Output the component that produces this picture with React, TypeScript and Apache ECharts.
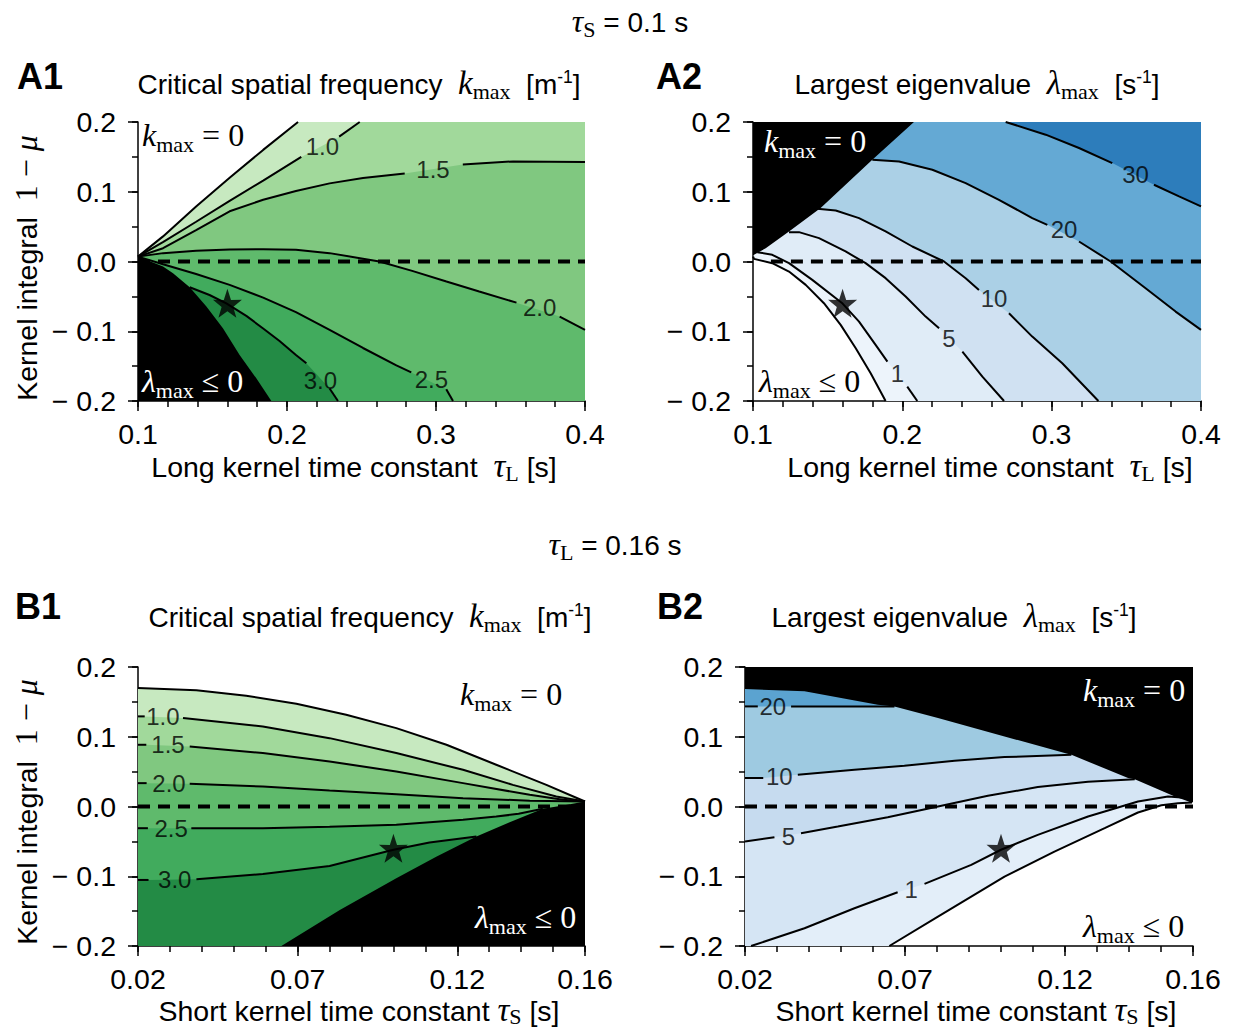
import React, { useEffect, useRef } from 'react';
import * as echarts from 'echarts';

type P = [number, number];
type L = (P | null)[];

const SANS = "'Liberation Sans', Arial, Helvetica, sans-serif";
const SERIF = "'Liberation Serif', 'Times New Roman', serif";

// ---------------- axes ----------------
const aXRange = [0.1, 0.4];
const bXRange = [0.02, 0.16];
const yRange = [-0.2, 0.2];
const aXTicks = [0.1, 0.2, 0.3, 0.4];
const bXTicks = [0.02, 0.07, 0.12, 0.16];
const yTicks = [-0.2, -0.1, 0.0, 0.1, 0.2];
const aXMinorStep = 0.02;
const bXMinorStep = 0.01;
const yMinorStep = 0.05;

// ---------------- A1 : k_max vs tau_L (tau_S = 0.1) ----------------
const a1K0: L = [[0.1, 0.007], [0.1168, 0.036], [0.139, 0.079], [0.1615, 0.12], [0.184, 0.16], [0.2074, 0.2]];
const a1L10: L = [[0.1, 0.007], [0.117, 0.028], [0.139, 0.057], [0.1615, 0.087], [0.184, 0.116], [0.2096, 0.15], null, [0.235, 0.179], [0.2488, 0.2]];
const a1L15: L = [[0.1, 0.007], [0.1168, 0.019], [0.139, 0.045], [0.1615, 0.072], [0.184, 0.0885], [0.206, 0.101], [0.2286, 0.112], [0.251, 0.1196], [0.279, 0.126], null, [0.318, 0.139], [0.3517, 0.1435], [0.4, 0.1426]];
const a1L20: L = [[0.1, 0.007], [0.1168, 0.012], [0.139, 0.0153], [0.1615, 0.0172], [0.184, 0.0177], [0.206, 0.0167], [0.2286, 0.012], [0.251, 0.004], [0.262, 0.0], [0.284, -0.0134], [0.307, -0.0287], [0.329, -0.043], [0.354, -0.059], null, [0.383, -0.079], [0.4, -0.098]];
const a1L25: L = [[0.1, 0.007], [0.1168, -0.004], [0.139, -0.018], [0.1615, -0.0335], [0.184, -0.0517], [0.206, -0.0727], [0.2286, -0.098], [0.251, -0.124], [0.2734, -0.149], [0.2834, -0.159], null, [0.3069, -0.183], [0.3114, -0.2]];
const a1L30: L = [[0.1347, -0.037], [0.148, -0.048], [0.1593, -0.06], [0.1727, -0.078], [0.184, -0.096], [0.195, -0.114], [0.206, -0.134], [0.213, -0.146], null, [0.2286, -0.182], [0.2342, -0.2]];
const a1Black: P[] = [[0.1, 0.007], [0.1168, -0.007], [0.1235, -0.017], [0.1347, -0.037], [0.1459, -0.0646], [0.157, -0.0957], [0.1682, -0.134], [0.1794, -0.1675], [0.1895, -0.2]];
const a1Colors = ['#c7e9c0', '#a1d99b', '#80c880', '#5fba6c', '#41ab5d', '#238b45'];
const a1LabelText = ['1.0', '1.5', '2.0', '2.5', '3.0'];
const a1LabelPos: P[] = [[0.2237, 0.165], [0.298, 0.1325], [0.3696, -0.066], [0.2969, -0.1689], [0.2224, -0.1699]];

// ---------------- A2 : lambda_max vs tau_L ----------------
const a2L0: P[] = [[0.1, 0.0072], [0.1007, 0.0038], [0.1129, -0.0024], [0.1241, -0.0144], [0.1353, -0.0335], [0.1475, -0.0598], [0.1587, -0.0909], [0.1688, -0.1244], [0.1788, -0.1603], [0.1888, -0.2]];
const a2L1: L = [[0.1029, 0.0134], [0.1129, 0.0096], [0.1241, -0.0024], [0.1397, -0.0263], [0.16, -0.0603], [0.171, -0.0861], [0.1821, -0.1196], [0.19, -0.1435], null, [0.2033, -0.1794], [0.21, -0.2]];
const a2L5: L = [[0.1241, 0.0421], [0.1308, 0.0421], [0.1442, 0.0335], [0.162, 0.0144], [0.1754, -0.0024], [0.1888, -0.0239], [0.2022, -0.0502], [0.2156, -0.079], [0.2246, -0.0957], null, [0.2402, -0.1292], [0.2536, -0.165], [0.2681, -0.2]];
const a2L10: L = [[0.1431, 0.0756], [0.1554, 0.0732], [0.171, 0.0622], [0.1888, 0.0431], [0.2067, 0.0215], [0.2279, 0.0], [0.2424, -0.0239], [0.2513, -0.0407], null, [0.2714, -0.0742], [0.287, -0.1077], [0.3071, -0.1459], [0.3313, -0.2]];
const a2L20: L = [[0.1799, 0.1459], [0.1978, 0.1435], [0.2201, 0.1316], [0.2424, 0.1124], [0.2647, 0.0885], [0.287, 0.0622], [0.2971, 0.0526], null, [0.3183, 0.0287], [0.3395, 0.0], [0.3629, -0.0383], [0.383, -0.0718], [0.4, -0.0981]];
const a2L30: L = [[0.2692, 0.2], [0.296, 0.1818], [0.3183, 0.1627], [0.3406, 0.1411], null, [0.3685, 0.11], [0.3853, 0.0933], [0.4, 0.079]];
const a2Black: P[] = [[0.2078, 0.2], [0.1799, 0.1459], [0.1453, 0.0766], [0.1241, 0.0431], [0.1085, 0.0191], [0.1007, 0.0096], [0.1, 0.0072]];
const a2Colors = ['#edf4fb', '#e0ecf7', '#d0e1f2', '#abd0e6', '#64a9d4', '#2d7dbb'];
const a2LabelText = ['1', '5', '10', '20', '30'];
const a2LabelPos: P[] = [[0.1967, -0.1603], [0.2312, -0.11], [0.2614, -0.0526], [0.3083, 0.0455], [0.3562, 0.1254]];

// ---------------- B1 : k_max vs tau_S (tau_L = 0.16) ----------------
const b1K0: P[] = [[0.02, 0.1699], [0.0383, 0.1665], [0.0539, 0.1589], [0.0696, 0.1474], [0.0852, 0.1316], [0.1009, 0.1124], [0.1166, 0.0885], [0.1322, 0.0598], [0.1479, 0.0311], [0.16, 0.0072]];
const b1L10: L = [[0.02, 0.1292], [0.0221, 0.1292], null, [0.0341, 0.1268], [0.0591, 0.1148], [0.08, 0.098], [0.1009, 0.0766], [0.1218, 0.0526], [0.1374, 0.031], [0.151, 0.0144], [0.16, 0.0072]];
const b1L15: L = [[0.02, 0.0885], [0.0226, 0.0885], null, [0.0362, 0.0861], [0.0591, 0.0766], [0.08, 0.0646], [0.1009, 0.0502], [0.1218, 0.0335], [0.1427, 0.0167], [0.1531, 0.0096], [0.16, 0.0072]];
const b1L20: L = [[0.02, 0.0335], [0.0227, 0.0335], null, [0.0362, 0.0325], [0.0591, 0.0287], [0.08, 0.023], [0.1009, 0.0177], [0.1218, 0.012], [0.1427, 0.0084], [0.16, 0.0072]];
const b1L25: L = [[0.02, -0.0311], [0.0231, -0.0311], null, [0.0367, -0.0311], [0.0591, -0.0311], [0.08, -0.0292], [0.1009, -0.0263], [0.1218, -0.0191], [0.1322, -0.0144], [0.1392, -0.0105], [0.1468, -0.0033]];
const b1L30: L = [[0.02, -0.1053], [0.0233, -0.1053], null, [0.0383, -0.1043], [0.0591, -0.0967], [0.08, -0.0852], [0.1, -0.062], [0.1113, -0.0517], [0.126, -0.0431]];
const b1Black: P[] = [[0.16, 0.0072], [0.1531, 0.0014], [0.1468, -0.0033], [0.1364, -0.0225], [0.126, -0.0431], [0.1134, -0.0722], [0.1009, -0.1029], [0.0832, -0.1483], [0.0649, -0.2]];
const b1Colors = a1Colors;
const b1LabelText = ['1.0', '1.5', '2.0', '2.5', '3.0'];
const b1LabelPos: P[] = [[0.0278, 0.1292], [0.0294, 0.0885], [0.0297, 0.0335], [0.0304, -0.0311], [0.0315, -0.1053]];

// ---------------- B2 : lambda_max vs tau_S ----------------
const b2L0: P[] = [[0.0651, -0.2], [0.0803, -0.1579], [0.1011, -0.1005], [0.1167, -0.0646], [0.1324, -0.0311], [0.1428, -0.0086], [0.1501, 0.0019], [0.1553, 0.0048], [0.1597, 0.0057]];
const b2L1: L = [[0.0219, -0.2], [0.0386, -0.1746], [0.0542, -0.1459], [0.0677, -0.123], null, [0.0761, -0.111], [0.0907, -0.0837], [0.1, -0.062], [0.1115, -0.0407], [0.1272, -0.0144], [0.1428, 0.0072], [0.1522, 0.0144], [0.1574, 0.0124], [0.1597, 0.0067]];
const b2L5: L = [[0.02, -0.0502], [0.0292, -0.044], null, [0.0375, -0.0383], [0.049, -0.0287], [0.0646, -0.0153], [0.0803, 0.0], [0.0959, 0.0153], [0.1115, 0.0278], [0.1272, 0.0354], [0.1418, 0.0392]];
const b2L10: L = [[0.02, 0.0407], [0.0257, 0.041], null, [0.0365, 0.0455], [0.0542, 0.0526], [0.0698, 0.0584], [0.0855, 0.0656], [0.1011, 0.0708], [0.122, 0.0742]];
const b2L20: L = [[0.02, 0.1435], [0.024, 0.1435], null, [0.0344, 0.1435], [0.0667, 0.1435]];
const b2Black: P[] = [[0.02, 0.1684], [0.0386, 0.1651], [0.0615, 0.1459], [0.0667, 0.1435], [0.0803, 0.1268], [0.1011, 0.1005], [0.1199, 0.0766], [0.122, 0.0742], [0.1397, 0.0407], [0.1418, 0.0392], [0.1543, 0.0144], [0.1595, 0.0057], [0.16, 0.006]];
const b2Colors = ['#e3eef9', '#d5e5f4', '#c6dbef', '#9ecae1', '#5ba3d0'];
const b2LabelText = ['20', '10', '5', '1'];
const b2LabelPos: P[] = [[0.0287, 0.1435], [0.0307, 0.0431], [0.0336, -0.0431], [0.0719, -0.1196]];

// ---------------- markers / reference lines ----------------
const aStar: P = [0.16, -0.06];
const bStar: P = [0.1, -0.06];
const a1Dash: P[] = [[0.1, 0], [0.4, 0]];
const a2Dash: P[] = [[0.112, 0], [0.4, 0]];
const b1Dash: P[] = [[0.02, 0], [0.16, 0]];
const b2Dash: P[] = [[0.02, 0], [0.16, 0]];

const STAR_PATH = 'path://M50,0 L61.8,35.1 L97.6,34.5 L69,56.7 L79.4,90.9 L50,70.5 L20.6,90.9 L31,56.7 L2.4,34.5 L38.2,35.1 Z';

function solid(l: L): P[] {
  return l.filter((p): p is P => p !== null);
}
function segs(l: L): P[][] {
  const out: P[][] = [];
  let cur: P[] = [];
  for (const p of l) {
    if (p === null) {
      if (cur.length) out.push(cur);
      cur = [];
    } else cur.push(p);
  }
  if (cur.length) out.push(cur);
  return out;
}

// ---------------- text helpers ----------------
type Piece = { t: string; size: number; fam: string; it?: boolean; bold?: boolean; dy?: number };
let measureCtx: CanvasRenderingContext2D | null = null;
function fontOf(p: Piece) {
  return `${p.it ? 'italic' : 'normal'} ${p.bold ? 'bold' : 'normal'} ${p.size}px ${p.fam}`;
}
function textWidth(t: string, p: Piece) {
  if (!measureCtx) measureCtx = document.createElement('canvas').getContext('2d');
  if (!measureCtx) return t.length * p.size * 0.5;
  measureCtx.font = fontOf(p);
  return measureCtx.measureText(t).width;
}
function mathText(pieces: Piece[], x: number, y: number, align: 'left' | 'center' | 'right', fill: string, rotation = 0) {
  const ws = pieces.map((p) => textWidth(p.t, p));
  const total = ws.reduce((a, b) => a + b, 0);
  let cx = align === 'center' ? -total / 2 : align === 'right' ? -total : 0;
  const children = pieces.map((p, i) => {
    const lead = (p.t.match(/^\s*/) || [''])[0];
    const core = p.t.trim();
    const el = {
      type: 'text',
      x: cx + (lead ? textWidth(lead, p) : 0),
      y: -0.34 * p.size + (p.dy || 0),
      silent: true,
      z: 100,
      zlevel: 0,
      style: {
        text: core,
        font: fontOf(p),
        fill,
        align: 'left',
        textAlign: 'left',
        verticalAlign: 'middle',
        textVerticalAlign: 'middle',
      },
    };
    cx += ws[i];
    return el;
  });
  return { type: 'group', x, y, rotation, silent: true, z: 100, children };
}

const LBL = 28.5;
const TTL = 28;
const S = (t: string, size = LBL, o: Partial<Piece> = {}): Piece => ({ t, size, fam: SANS, ...o });
const M = (t: string, size = 32, o: Partial<Piece> = {}): Piece => ({ t, size, fam: SERIF, ...o });
const SUB = (t: string, dy = 5): Piece => ({ t, size: 22, fam: SERIF, dy });
const SUP = (t: string): Piece => ({ t, size: 17.5, fam: SANS, dy: -11 });

const kmaxZero = (): Piece[] => [M('k', 32, { it: true }), SUB('max', 6), M(' = 0', 32)];
const lmaxLeq = (): Piece[] => [M('λ', 32, { it: true }), SUB('max', 6), M(' ≤ 0', 32)];

function fmtY(v: number) {
  if (v < -1e-9) return '− ' + Math.abs(v).toFixed(1);
  return Math.abs(v).toFixed(1);
}

interface Panel {
  grid: { left: number; top: number; width: number; height: number };
  xRange: number[];
  xTicks: number[];
  xMinor: number;
  xDigits: number;
  fills: { poly: P[]; color: string }[];
  lines: L[];
  labelText: string[];
  labelPos: P[];
  star: P;
  dash: P[];
}

function buildOption() {
  const [ax0, ax1] = aXRange;
  const [bx0, bx1] = bXRange;
  const [y0, y1] = yRange;

  const panels: Panel[] = [
    {
      grid: { left: 138, top: 122, width: 447, height: 279 },
      xRange: aXRange, xTicks: aXTicks, xMinor: aXMinorStep, xDigits: 1,
      fills: [
        { poly: [...solid(a1K0), [ax1, y1], [ax1, y0], [ax0, y0]], color: a1Colors[0] },
        { poly: [...solid(a1L10), [ax1, y1], [ax1, y0], [ax0, y0]], color: a1Colors[1] },
        { poly: [...solid(a1L15), [ax1, y0], [ax0, y0]], color: a1Colors[2] },
        { poly: [...solid(a1L20), [ax1, y0], [ax0, y0]], color: a1Colors[3] },
        { poly: [...solid(a1L25), [ax0, y0]], color: a1Colors[4] },
        { poly: [...solid(a1L30), [ax0, y0]], color: a1Colors[5] },
        { poly: [...a1Black, [ax0, y0]], color: '#000000' },
      ],
      lines: [a1K0, a1L10, a1L15, a1L20, a1L25, a1L30],
      labelText: a1LabelText, labelPos: a1LabelPos, star: aStar, dash: a1Dash,
    },
    {
      grid: { left: 753, top: 122, width: 448, height: 279 },
      xRange: aXRange, xTicks: aXTicks, xMinor: aXMinorStep, xDigits: 1,
      fills: [
        { poly: [...a2L0, [ax1, y0], [ax1, y1], [ax0, y1]], color: a2Colors[0] },
        { poly: [...solid(a2L1), [ax1, y0], [ax1, y1], [ax0, y1]], color: a2Colors[1] },
        { poly: [...solid(a2L5), [ax1, y0], [ax1, y1], [ax0, y1]], color: a2Colors[2] },
        { poly: [...solid(a2L10), [ax1, y0], [ax1, y1], [ax0, y1]], color: a2Colors[3] },
        { poly: [...solid(a2L20), [ax1, y1], [ax0, y1]], color: a2Colors[4] },
        { poly: [...solid(a2L30), [ax1, y1]], color: a2Colors[5] },
        { poly: [[ax0, y1], ...a2Black], color: '#000000' },
      ],
      lines: [a2L0, a2L1, a2L5, a2L10, a2L20, a2L30],
      labelText: a2LabelText, labelPos: a2LabelPos, star: aStar, dash: a2Dash,
    },
    {
      grid: { left: 138, top: 667, width: 447, height: 279 },
      xRange: bXRange, xTicks: bXTicks, xMinor: bXMinorStep, xDigits: 2,
      fills: [
        { poly: [...b1K0, [bx1, y0], [bx0, y0]], color: b1Colors[0] },
        { poly: [...solid(b1L10), [bx1, y0], [bx0, y0]], color: b1Colors[1] },
        { poly: [...solid(b1L15), [bx1, y0], [bx0, y0]], color: b1Colors[2] },
        { poly: [...solid(b1L20), [bx1, y0], [bx0, y0]], color: b1Colors[3] },
        { poly: [...solid(b1L25), [bx1, y0], [bx0, y0]], color: b1Colors[4] },
        { poly: [...solid(b1L30), [bx1, y0], [bx0, y0]], color: b1Colors[5] },
        { poly: [...b1Black, [bx1, y0]], color: '#000000' },
      ],
      lines: [b1K0, b1L10, b1L15, b1L20, b1L25, b1L30],
      labelText: b1LabelText, labelPos: b1LabelPos, star: bStar, dash: b1Dash,
    },
    {
      grid: { left: 745, top: 667, width: 448, height: 279 },
      xRange: bXRange, xTicks: bXTicks, xMinor: bXMinorStep, xDigits: 2,
      fills: [
        { poly: [...b2L0, [bx1, y1], [bx0, y1], [bx0, y0]], color: b2Colors[0] },
        { poly: [...solid(b2L1), [bx1, y1], [bx0, y1], [bx0, y0]], color: b2Colors[1] },
        { poly: [...solid(b2L5), [bx1, y1], [bx0, y1]], color: b2Colors[2] },
        { poly: [...solid(b2L10), [bx1, y1], [bx0, y1]], color: b2Colors[3] },
        { poly: [...solid(b2L20), [bx1, y1], [bx0, y1]], color: b2Colors[4] },
        { poly: [...b2Black, [bx1, y1], [bx0, y1]], color: '#000000' },
      ],
      lines: [b2L0, b2L1, b2L5, b2L10, b2L20],
      labelText: b2LabelText, labelPos: b2LabelPos, star: bStar, dash: b2Dash,
    },
  ];

  const grid: any[] = [];
  const xAxis: any[] = [];
  const yAxis: any[] = [];
  const series: any[] = [];

  const axisLine = { show: true, onZero: false, lineStyle: { color: '#000', width: 1.5 } };
  const labelStyle = { fontFamily: SANS, fontSize: 28.5, color: '#000' };

  panels.forEach((pn, i) => {
    grid.push({ ...pn.grid, containLabel: false, show: false });
    const xi = 2 * i;
    const yi = 2 * i;
    xAxis.push({
      type: 'value', gridIndex: i, min: pn.xRange[0], max: pn.xRange[1], position: 'bottom',
      axisLine,
      axisTick: { show: true, inside: false, length: 10, lineStyle: { color: '#000', width: 1.5 }, customValues: pn.xTicks },
      axisLabel: { show: true, customValues: pn.xTicks, formatter: (v: number) => v.toFixed(pn.xDigits), margin: 18, ...labelStyle },
      splitLine: { show: false },
    });
    xAxis.push({
      type: 'value', gridIndex: i, min: pn.xRange[0], max: pn.xRange[1], interval: pn.xMinor, position: 'bottom',
      axisLine: { show: false, onZero: false },
      axisTick: { show: true, inside: false, length: 6, lineStyle: { color: '#000', width: 1.5 } },
      axisLabel: { show: false },
      splitLine: { show: false },
    });
    yAxis.push({
      type: 'value', gridIndex: i, min: yRange[0], max: yRange[1], position: 'left',
      axisLine,
      axisTick: { show: true, inside: false, length: 10, lineStyle: { color: '#000', width: 1.5 }, customValues: yTicks },
      axisLabel: { show: true, customValues: yTicks, formatter: fmtY, margin: 22, ...labelStyle },
      splitLine: { show: false },
    });
    yAxis.push({
      type: 'value', gridIndex: i, min: yRange[0], max: yRange[1], interval: yMinorStep, position: 'left',
      axisLine: { show: false, onZero: false },
      axisTick: { show: true, inside: false, length: 6, lineStyle: { color: '#000', width: 1.5 } },
      axisLabel: { show: false },
      splitLine: { show: false },
    });

    pn.fills.forEach((f, k) => {
      series.push({
        type: 'custom', xAxisIndex: xi, yAxisIndex: yi, silent: true, z: 1 + k,
        data: [f.poly[0]],
        renderItem: (_params: any, api: any) => ({
          type: 'polygon',
          shape: { points: f.poly.map((p) => api.coord(p)) },
          style: { fill: f.color },
        }),
      });
    });

    pn.lines.forEach((l) => {
      segs(l).forEach((sg) => {
        series.push({
          type: 'line', xAxisIndex: xi, yAxisIndex: yi, data: sg, symbol: 'none', silent: true, z: 10,
          lineStyle: { color: '#000', width: 2 },
        });
      });
    });

    series.push({
      type: 'line', xAxisIndex: xi, yAxisIndex: yi, data: pn.dash, symbol: 'none', silent: true, z: 11,
      lineStyle: { color: '#000', width: 4, type: [12, 8], cap: 'butt' },
    });

    series.push({
      type: 'scatter', xAxisIndex: xi, yAxisIndex: yi, data: pn.labelPos, symbolSize: 2, silent: true, z: 12,
      itemStyle: { color: 'rgba(0,0,0,0)' },
      label: {
        show: true, position: 'inside', formatter: (p: any) => pn.labelText[p.dataIndex],
        fontFamily: SANS, fontSize: 24, color: '#000',
      },
    });

    series.push({
      type: 'scatter', xAxisIndex: xi, yAxisIndex: yi, data: [pn.star], symbol: STAR_PATH, symbolSize: 29,
      silent: true, z: 13, itemStyle: { color: '#000' },
    });
  });

  const elements: any[] = [
    // header lines
    mathText([M('τ', 32, { it: true }), SUB('S'), S(' = 0.1 s', 28)], 630, 32, 'center', '#000'),
    mathText([M('τ', 32, { it: true }), SUB('L'), S(' = 0.16 s', 28)], 615, 555, 'center', '#000'),
    // panel letters
    mathText([S('A1', 36, { bold: true })], 17, 89, 'left', '#000'),
    mathText([S('A2', 36, { bold: true })], 656, 89, 'left', '#000'),
    mathText([S('B1', 36, { bold: true })], 15, 619, 'left', '#000'),
    mathText([S('B2', 36, { bold: true })], 657, 619, 'left', '#000'),
    // titles
    mathText([S('Critical spatial frequency  ', TTL), M('k', 33, { it: true }), SUB('max'), S('  [m', TTL), SUP('-1'), S(']', TTL)], 359, 94, 'center', '#000'),
    mathText([S('Largest eigenvalue  ', TTL), M('λ', 33, { it: true }), SUB('max'), S('  [s', TTL), SUP('-1'), S(']', TTL)], 977, 94, 'center', '#000'),
    mathText([S('Critical spatial frequency  ', TTL), M('k', 33, { it: true }), SUB('max'), S('  [m', TTL), SUP('-1'), S(']', TTL)], 370, 627, 'center', '#000'),
    mathText([S('Largest eigenvalue  ', TTL), M('λ', 33, { it: true }), SUB('max'), S('  [s', TTL), SUP('-1'), S(']', TTL)], 954, 627, 'center', '#000'),
    // x labels
    mathText([S('Long kernel time constant  '), M('τ', 33, { it: true }), SUB('L', 4), S(' [s]')], 354, 477, 'center', '#000'),
    mathText([S('Long kernel time constant  '), M('τ', 33, { it: true }), SUB('L', 4), S(' [s]')], 990, 477, 'center', '#000'),
    mathText([S('Short kernel time constant '), M('τ', 33, { it: true }), SUB('S', 3), S(' [s]')], 359, 1021, 'center', '#000'),
    mathText([S('Short kernel time constant '), M('τ', 33, { it: true }), SUB('S', 3), S(' [s]')], 976, 1021, 'center', '#000'),
    // y labels
    mathText([S('Kernel integral  '), M('1 − ', 32), M('μ', 32, { it: true })], 37, 268, 'center', '#000', Math.PI / 2),
    mathText([S('Kernel integral  '), M('1 − ', 32), M('μ', 32, { it: true })], 37, 812, 'center', '#000', Math.PI / 2),
    // annotations
    mathText(kmaxZero(), 142, 146, 'left', '#000'),
    mathText(lmaxLeq(), 142, 392, 'left', '#ffffff'),
    mathText(kmaxZero(), 764, 152, 'left', '#ffffff'),
    mathText(lmaxLeq(), 759, 392, 'left', '#000'),
    mathText(kmaxZero(), 460, 705, 'left', '#000'),
    mathText(lmaxLeq(), 475, 928, 'left', '#ffffff'),
    mathText(kmaxZero(), 1083, 701, 'left', '#ffffff'),
    mathText(lmaxLeq(), 1083, 937, 'left', '#000'),
  ];

  return {
    animation: false,
    backgroundColor: '#ffffff',
    textStyle: { fontFamily: SANS },
    grid,
    xAxis,
    yAxis,
    series,
    graphic: { elements },
  };
}

export default function App() {
  const ref = useRef<HTMLDivElement>(null);
  useEffect(() => {
    if (!ref.current) return;
    const chart = echarts.init(ref.current, undefined, { renderer: 'svg', width: 1238, height: 1029 });
    chart.setOption(buildOption() as any);
    return () => chart.dispose();
  }, []);
  return (
    <div
      ref={ref}
      style={{ position: 'absolute', left: 0, top: 0, width: 1238, height: 1029, background: '#fff' }}
    />
  );
}
